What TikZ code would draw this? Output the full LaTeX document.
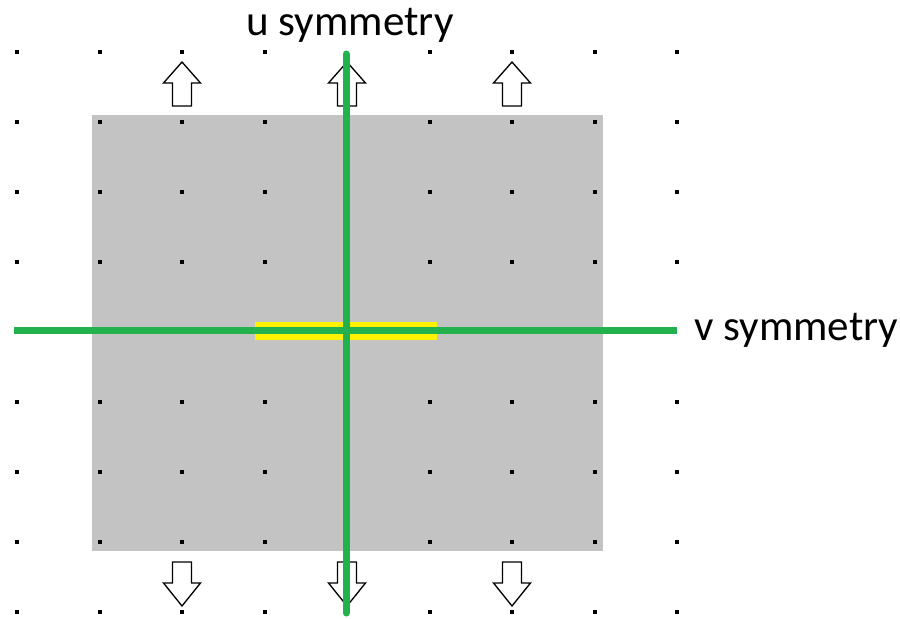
\documentclass[tikz,border=0pt]{standalone}
\usepackage{fontspec}
\setmainfont{Carlito}
\usetikzlibrary{positioning}
\definecolor{symgreen}{RGB}{34,177,76}
\definecolor{symyellow}{RGB}{255,242,0}
\definecolor{padgray}{RGB}{195,195,195}
\tikzset{
  sym line/.style={symgreen,line width=0.14cm},
  sym label/.style={font=\fontsize{24.5}{28}\selectfont,inner sep=0pt},
  grid dot/.style={fill=black},
  grow arrow/.style={draw=black,fill=white,line width=0.75pt,line join=miter},
  pad area/.style={fill=padgray},
  mid band/.style={fill=symyellow}
}

\begin{document}
\begin{tikzpicture}[x=0.02cm,y=-0.02cm]
  \useasboundingbox (0,0) rectangle (900,619);
  \fill[pad area] (92,115) rectangle (603,551);
  \foreach \c in {17,99.5,182,264.5,429.5,512,594.5,677} {
    \foreach \r in {52,122,192,262,402,472,542,612} {
      \fill[grid dot] (\c-2,\r-2) rectangle (\c+2,\r+2);
    }
  }
  \foreach \c in {182,347,512} {
    \draw[grow arrow] (\c,62) -- (\c+18.5,83) -- (\c+9.5,83) -- (\c+9.5,106)
      -- (\c-9.5,106) -- (\c-9.5,83) -- (\c-18.5,83) -- cycle;
    \draw[grow arrow] (\c,606) -- (\c+18.5,583) -- (\c+9.5,583) -- (\c+9.5,562)
      -- (\c-9.5,562) -- (\c-9.5,583) -- (\c-18.5,583) -- cycle;
  }
  \fill[mid band] (255,322) rectangle (437,340);
  \coordinate (utop) at (346,54);
  \coordinate (ubot) at (346,613);
  \coordinate (vleft) at (14,330);
  \coordinate (vright) at (677,330);
  \draw[sym line] (vleft) -- (vright);
  \draw[sym line,line cap=round] (utop) -- (ubot);
  \node[sym label,above=0.22cm of utop,xshift=0.08cm] (ulabel) {u symmetry};
  \node[sym label,right=0.34cm of vright] (vlabel) {v symmetry};
\end{tikzpicture}
\end{document}
